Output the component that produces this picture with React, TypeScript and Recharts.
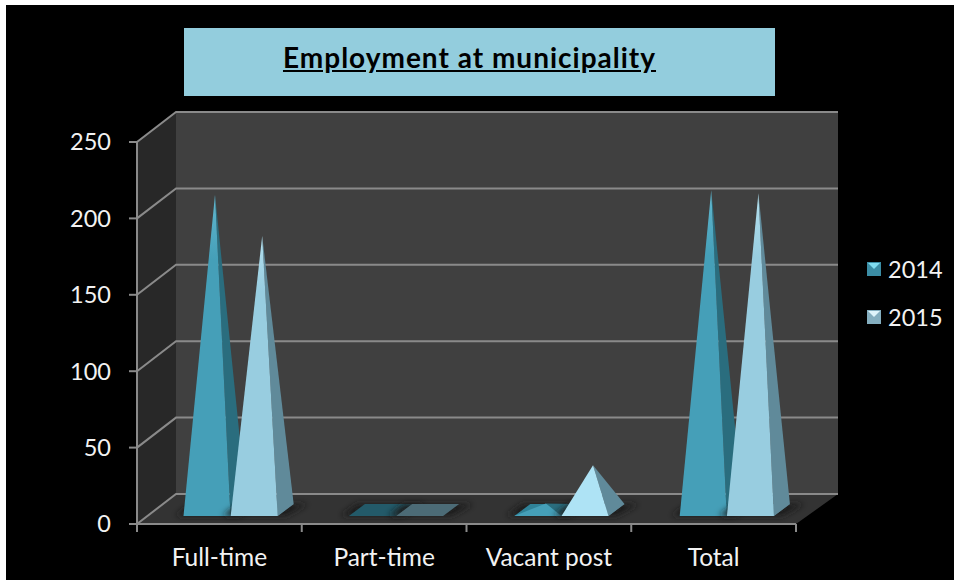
import { BarChart, Bar, XAxis, YAxis, CartesianGrid, Legend } from "recharts";

const CATEGORIES = ["Full-time", "Part-time", "Vacant post", "Total"];
const VALUES_2014 = [205, 0, 3, 208];
const VALUES_2015 = [178, 0, 28, 206];
const Y_TICKS = [0, 50, 100, 150, 200, 250];

const chartData = CATEGORIES.map((name, i) => ({
   name,
   y2014: VALUES_2014[i],
   y2015: VALUES_2015[i],
}));

const FONT = "Lato, 'Open Sans', sans-serif";
const AXIS_COLOR = "#8a8a8a";
const TEXT_COLOR = "#f2f2f2";

// fake 3d depth of the box, screen px from the front plane to the back wall
const DEPTH_X = 41;
const DEPTH_Y = 30;
const FLOOR_Y = 524;
const PLOT_WIDTH = 659;

const COLORS_2014 = { front: "#459fb8", tip: "#62b8cf", side: "#2a6d7e", flat: "#235a69", low: "#2f8298", icon: "#3b8da5", iconTop: "#7fdcf0" };
const COLORS_2015 = { front: "#98cde0", tip: "#b4e0ee", side: "#608a9a", flat: "#4c6b76", low: "#4c6b76", icon: "#84aebf", iconTop: "#dff4fb" };
const COLOR_VACANT_2015 = "#aee3f5";

const Pyramid = ({ x, y, width, height, value, colors, id }: any) => {
   const v = Array.isArray(value) ? value[1] : value;
   // the pyramids sit a bit further back than the axis, so their spacing is a touch wider
   const left = x + 11.5 + (x - 172) * 0.004;
   const right = left + width;
   const base = y + height - 8;
   const backX = 16;
   const backY = 12;
   const apexX = (left + right) / 2 + 8;
   const apexY = y - 16;
   return (
      <g>
         <defs>
            <filter id={`blur-${id}`} x="-30%" y="-100%" width="160%" height="300%">
               <feGaussianBlur stdDeviation="3" />
            </filter>
            <linearGradient id={`face-${id}`} x1="0" y1="0" x2="0" y2="1">
               <stop offset="0" stopColor={v < 50 ? colors.front : colors.tip} />
               <stop offset="0.2" stopColor={colors.front} />
               <stop offset="1" stopColor={colors.front} />
            </linearGradient>
         </defs>
         <polygon
            points={`${left - 8},${base} ${right + 8},${base} ${right + backX + 14},${base - backY} ${left + backX - 8},${base - backY}`}
            fill="#1c1c1c"
            filter={`url(#blur-${id})`}
         />
         <polygon
            points={`${left},${base} ${right},${base} ${right + backX},${base - backY} ${left + backX},${base - backY}`}
            fill={v > 0 ? colors.low : colors.flat}
         />
         {v > 0 && (
            <>
               <polygon points={`${right},${base} ${right + backX},${base - backY} ${apexX},${apexY}`} fill={colors.side} />
               <polygon points={`${left},${base} ${right},${base} ${apexX},${apexY}`} fill={`url(#face-${id})`} />
            </>
         )}
      </g>
   );
};

// the walls and floor are painted with the first gridline, so they sit under everything
const GridLine = ({ x1, x2, y1, index }: any) => {
   const backLeft = x1 + DEPTH_X - 2;
   const backRight = x2 + DEPTH_X + 1;
   const topY = 142;
   return (
      <g>
         {index === 0 && (
            <>
               <polygon
                  points={`${x1},${topY} ${backLeft},${topY - DEPTH_Y} ${backLeft},${FLOOR_Y - DEPTH_Y} ${x1},${FLOOR_Y}`}
                  fill="#282828"
               />
               <rect x={backLeft} y={topY - DEPTH_Y} width={backRight - backLeft} height={FLOOR_Y - topY} fill="#404040" />
               <polygon
                  points={`${x1},${FLOOR_Y} ${backLeft},${FLOOR_Y - DEPTH_Y} ${backRight},${FLOOR_Y - DEPTH_Y} ${x2},${FLOOR_Y}`}
                  fill="#333333"
               />
            </>
         )}
         <polyline
            points={`${x1},${y1} ${backLeft},${y1 - DEPTH_Y} ${backRight},${y1 - DEPTH_Y}`}
            fill="none"
            stroke={AXIS_COLOR}
            strokeWidth={2}
         />
      </g>
   );
};

// ticks go between the categories here, not under them
const CategoryTick = ({ x, payload, index }: any) => {
   const half = PLOT_WIDTH / CATEGORIES.length / 2;
   return (
      <g>
         <line x1={x - half} x2={x - half} y1={FLOOR_Y} y2={FLOOR_Y + 8} stroke={AXIS_COLOR} strokeWidth={2} />
         {index === CATEGORIES.length - 1 && (
            <line x1={x + half} x2={x + half} y1={FLOOR_Y} y2={FLOOR_Y + 8} stroke={AXIS_COLOR} strokeWidth={2} />
         )}
         <text x={x} y={FLOOR_Y + 42} textAnchor="middle" fill={TEXT_COLOR} fontSize={24.5} fontFamily={FONT}>
            {payload.value}
         </text>
      </g>
   );
};

const LegendIcon = ({ colors }: any) => (
   <svg width={14} height={14} style={{ marginRight: 7, flex: "none" }}>
      <rect width={14} height={14} fill={colors.icon} />
      <polygon points="1,1 13,1 7,7" fill={colors.iconTop} />
   </svg>
);

const LegendContent = () => (
   <div style={{ fontFamily: FONT, fontSize: 23.5, color: TEXT_COLOR, lineHeight: "30px" }}>
      <div style={{ display: "flex", alignItems: "center", marginBottom: 18 }}>
         <LegendIcon colors={COLORS_2014} />
         2014
      </div>
      <div style={{ display: "flex", alignItems: "center" }}>
         <LegendIcon colors={COLORS_2015} />
         2015
      </div>
   </div>
);

const App = () => {
   return (
      <div style={{ position: "fixed", left: 0, top: 0, width: 954, height: 580, background: "#fff", overflow: "hidden" }}>
         <div style={{ position: "absolute", left: 6, top: 5, width: 948, height: 575, background: "#000" }} />
         <div
            style={{
               position: "absolute",
               left: 184,
               top: 28,
               width: 571,
               paddingRight: 20,
               height: 68,
               background: "#93cddd",
               color: "#000",
               fontFamily: FONT,
               fontSize: 28,
               fontWeight: 700,
               textDecoration: "underline",
               textAlign: "center",
               lineHeight: "58px",
               letterSpacing: 1,
            }}>
            Employment at municipality
         </div>
         <div style={{ position: "absolute", left: 0, top: 0 }}>
            <BarChart
               width={954}
               height={580}
               data={chartData}
               margin={{ top: 142, right: 158, bottom: 6, left: 67 }}
               barCategoryGap={35}
               barGap={0}>
               <CartesianGrid vertical={false} horizontal={(props: any) => <GridLine {...props} />} />
               <XAxis
                  dataKey="name"
                  height={50}
                  stroke={AXIS_COLOR}
                  strokeWidth={2}
                  tickLine={false}
                  interval={0}
                  tick={(props: any) => <CategoryTick {...props} />}
               />
               <YAxis
                  width={70}
                  domain={[0, 250]}
                  ticks={Y_TICKS}
                  stroke={AXIS_COLOR}
                  strokeWidth={2}
                  tickSize={8}
                  tickMargin={18}
                  tick={{ fill: TEXT_COLOR, fontSize: 23.5, fontFamily: FONT }}
               />
               <Legend
                  layout="vertical"
                  align="center"
                  verticalAlign="middle"
                  wrapperStyle={{ left: 867, top: 254, width: 90 }}
                  content={<LegendContent />}
               />
               <Bar
                  dataKey="y2014"
                  name="2014"
                  isAnimationActive={false}
                  shape={(props: any) => <Pyramid {...props} colors={COLORS_2014} id={`a${props.index}`} />}
               />
               <Bar
                  dataKey="y2015"
                  name="2015"
                  isAnimationActive={false}
                  shape={(props: any) => (
                     <Pyramid
                        {...props}
                        colors={props.index === 2 ? { ...COLORS_2015, front: COLOR_VACANT_2015 } : COLORS_2015}
                        id={`b${props.index}`}
                     />
                  )}
               />
            </BarChart>
         </div>
      </div>
   );
};

export default App;
